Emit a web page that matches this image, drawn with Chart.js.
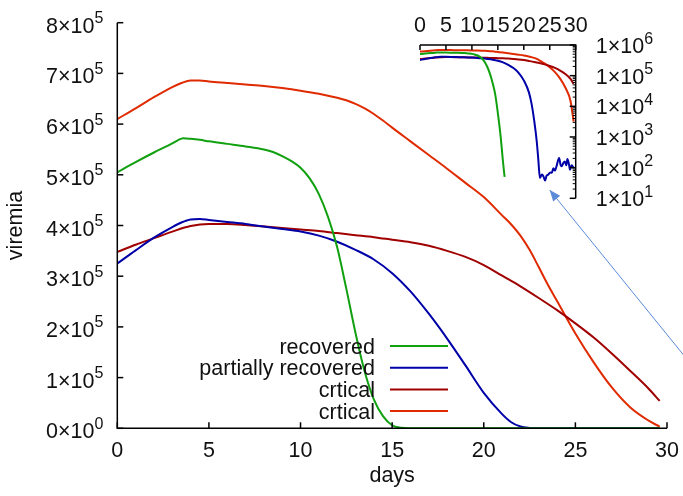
<!DOCTYPE html>
<html><head><meta charset="utf-8">
<script src="https://cdn.jsdelivr.net/npm/chart.js@4/dist/chart.umd.min.js"></script>
<style>
html,body{margin:0;padding:0;background:#fff;}
#wrap{position:relative;width:683px;height:496px;}
canvas{position:absolute;left:0;top:0;}
</style></head><body>
<div id="wrap"><canvas id="main" width="683" height="496"></canvas><canvas id="inset" width="683" height="496"></canvas></div>
<script>
// ---------- data ----------
const seriesLabels = ['recovered', 'partially recovered', 'crtical', 'crtical'];
const seriesColors = ['#10a010', '#0000a8', '#a00000', '#e02a00'];

const recoveredDays   = [0,1,2,3,3.3,3.6,4,4.5,5,6,7,8,8.5,9,9.5,10,10.5,11,11.5,12,12.5,13,13.5,14,14.5,15,15.5,16,16.3,16.6,18,20,22,24,26,28,29.6];
const recoveredValues = [505000,525000,544000,562000,568000,572000,571000,569000,566000,561000,556000,550000,545000,537000,527000,514000,493000,462000,417000,357000,275000,188000,112000,57000,24000,6000,1200,150,50,0,0,0,0,0,0,0,0];

const partialDays   = [0,1,2,3,3.5,4,4.5,5,6,7,8,9,10,11,12,13,14,15,16,17,18,19,20,21,21.5,22,22.5,22.8,23.1,23.5,23.8,24.1,24.4,24.7,25.1,25.4,25.7,26.0,26.3,26.8,27.1,27.3,27.6,27.9,28.2,28.4,28.7,28.9,29.2,29.4,29.6];
const partialValues = [325000,351000,376000,397000,406000,412000,413000,411000,407000,403000,398000,393000,388000,380000,368000,352000,333000,306000,270000,226000,177000,124000,70000,28000,12000,3500,700,180,46,60,51,38,55,59,70,68,95,80,110,205,120,110,140,158,120,190,130,85,120,110,95];

const critical1Days   = [0,1,2,3,4,5,6,7,8,9,10,11,12,13,14,15,16,17,18,19,20,21,22,23,24,25,26,27,28,29,29.6];
const critical1Values = [348000,362000,375000,388000,399000,403000,403000,401000,398000,395000,392000,389000,385000,381000,377000,372000,367000,360000,350000,338000,322000,301000,280000,257000,233000,207000,179000,147000,113000,78000,54000];

const critical2Days   = [0,1,2,3,3.5,4,4.5,5,6,7,8,9,10,11,12,12.5,13,13.5,14,14.5,15,16,17,18,19,20,21,21.5,22,22.5,23,23.5,24,25,26,27,28,29,29.6];
const critical2Values = [610000,631000,653000,673000,681000,686000,686000,684000,681000,678000,675000,671000,666000,660000,652000,647000,640000,631000,620000,607000,593000,566000,539000,512000,484000,456000,420000,402000,380000,352000,318000,283000,251000,187000,130000,80000,41000,15000,3200];

const mainXTicks = [0,5,10,15,20,25,30];
const mainYTicks = [0,100000,200000,300000,400000,500000,600000,700000,800000];
const mainYTickLabels = ['0×10^0','1×10^5','2×10^5','3×10^5','4×10^5','5×10^5','6×10^5','7×10^5','8×10^5'];
const insetXTicks = [0,5,10,15,20,25,30];
const insetYTicks = [10,100,1000,10000,100000,1000000];
const insetYTickLabels = ['1×10^1','1×10^2','1×10^3','1×10^4','1×10^5','1×10^6'];
const xTitle = 'days';
const yTitle = 'viremia';

// ---------- helpers ----------
const FONT = '"Liberation Sans", Arial, Helvetica, sans-serif';
const MAIN_SIZE = 21.5, SUP_SIZE = 16;
function sciWidth(ctx, label){
  const [m, e] = label.split('^');
  ctx.font = MAIN_SIZE + 'px ' + FONT; const w1 = ctx.measureText(m).width;
  ctx.font = SUP_SIZE + 'px ' + FONT; const w2 = ctx.measureText(e).width;
  return w1 + w2;
}
function drawSci(ctx, label, x, baseline){
  const [m, e] = label.split('^');
  ctx.textAlign = 'left'; ctx.textBaseline = 'alphabetic';
  ctx.font = MAIN_SIZE + 'px ' + FONT; ctx.fillText(m, x, baseline);
  const w1 = ctx.measureText(m).width;
  ctx.font = SUP_SIZE + 'px ' + FONT; ctx.fillText(e, x + w1, baseline - 9.5);
}
function makeSeries(days, vals, logMode){
  return days.map((d, i) => ({x: d, y: (logMode && vals[i] <= 0) ? null : vals[i]}));
}
const allDays = [recoveredDays, partialDays, critical1Days, critical2Days];
const allVals = [recoveredValues, partialValues, critical1Values, critical2Values];
function datasets(logMode){
  return allDays.map((d, i) => ({
    label: seriesLabels[i],
    data: makeSeries(d, allVals[i], logMode),
    borderColor: seriesColors[i],
    borderWidth: 2,
    pointRadius: 0,
    fill: false,
    spanGaps: false,
    cubicInterpolationMode: 'monotone'
  }));
}

// ---------- main chart decorations ----------
const mainDecor = {
  id: 'mainDecor',
  afterDraw(chart){
    const ctx = chart.ctx, xs = chart.scales.x, ys = chart.scales.y, a = chart.chartArea;
    ctx.save();
    ctx.strokeStyle = '#000'; ctx.fillStyle = '#111'; ctx.lineWidth = 1.5;
    ctx.beginPath();
    ctx.moveTo(a.left, a.top); ctx.lineTo(a.left, a.bottom); ctx.lineTo(a.right, a.bottom);
    ctx.stroke();
    // y ticks
    mainYTicks.forEach((v, i) => {
      const y = ys.getPixelForValue(v);
      ctx.beginPath(); ctx.moveTo(a.left, y); ctx.lineTo(a.left + 6, y); ctx.stroke();
      const w = sciWidth(ctx, mainYTickLabels[i]);
      drawSci(ctx, mainYTickLabels[i], a.left - 14 - w, y + 10);
    });
    // x ticks
    ctx.font = MAIN_SIZE + 'px ' + FONT; ctx.textAlign = 'center'; ctx.textBaseline = 'alphabetic';
    mainXTicks.forEach(v => {
      const x = xs.getPixelForValue(v);
      ctx.beginPath(); ctx.moveTo(x, a.bottom); ctx.lineTo(x, a.bottom - 6); ctx.stroke();
      ctx.fillText(String(v), x, a.bottom + 29);
    });
    // titles
    ctx.fillText(xTitle, (a.left + a.right) / 2, 482);
    ctx.save();
    ctx.translate(16, (a.top + a.bottom) / 2); ctx.rotate(-Math.PI / 2);
    ctx.textBaseline = 'middle'; ctx.fillText(yTitle, 0, 0);
    ctx.restore();
    // legend
    chart.data.datasets.forEach((ds, i) => {
      const rowY = 346 + i * 21.7;
      ctx.font = MAIN_SIZE + 'px ' + FONT; ctx.textAlign = 'right'; ctx.textBaseline = 'alphabetic';
      ctx.fillStyle = '#111';
      ctx.fillText(ds.label, 375, rowY + 7.5);
      ctx.strokeStyle = ds.borderColor; ctx.lineWidth = 2;
      ctx.beginPath(); ctx.moveTo(390, rowY); ctx.lineTo(448, rowY); ctx.stroke();
    });
    // arrow (annotation in data coordinates)
    const x0 = xs.getPixelForValue(31.5), y0 = ys.getPixelForValue(118000);
    const x1 = xs.getPixelForValue(23.6), y1 = ys.getPixelForValue(470000);
    ctx.strokeStyle = '#5a8ad8'; ctx.fillStyle = '#5a8ad8'; ctx.lineWidth = 1;
    ctx.beginPath(); ctx.moveTo(x0, y0); ctx.lineTo(x1, y1); ctx.stroke();
    const ang = Math.atan2(y1 - y0, x1 - x0), L = 11, W = 4.5;
    ctx.beginPath();
    ctx.moveTo(x1, y1);
    ctx.lineTo(x1 - L * Math.cos(ang) + W * Math.sin(ang), y1 - L * Math.sin(ang) - W * Math.cos(ang));
    ctx.lineTo(x1 - L * Math.cos(ang) - W * Math.sin(ang), y1 - L * Math.sin(ang) + W * Math.cos(ang));
    ctx.closePath(); ctx.fill();
    ctx.restore();
  }
};

// ---------- inset decorations ----------
const insetDecor = {
  id: 'insetDecor',
  afterDraw(chart){
    const ctx = chart.ctx, xs = chart.scales.x, ys = chart.scales.y, a = chart.chartArea;
    ctx.save();
    ctx.strokeStyle = '#000'; ctx.fillStyle = '#111'; ctx.lineWidth = 1.5;
    ctx.beginPath();
    ctx.moveTo(a.left, a.top); ctx.lineTo(a.right, a.top); ctx.lineTo(a.right, a.bottom);
    ctx.stroke();
    ctx.font = MAIN_SIZE + 'px ' + FONT; ctx.textAlign = 'center'; ctx.textBaseline = 'alphabetic';
    insetXTicks.forEach(v => {
      const x = xs.getPixelForValue(v);
      ctx.beginPath(); ctx.moveTo(x, a.top); ctx.lineTo(x, a.top + 5); ctx.stroke();
      ctx.fillText(String(v), x, a.top - 13);
    });
    ctx.lineWidth = 1;
    for (let k = 1; k < 6; k++) {
      for (let m = 2; m <= 9; m++) {
        const y = ys.getPixelForValue(m * Math.pow(10, k));
        ctx.beginPath(); ctx.moveTo(a.right, y); ctx.lineTo(a.right - 3, y); ctx.stroke();
      }
    }
    ctx.lineWidth = 1.5;
    insetYTicks.forEach((v, i) => {
      const y = ys.getPixelForValue(v);
      ctx.beginPath(); ctx.moveTo(a.right, y); ctx.lineTo(a.right - 6, y); ctx.stroke();
      drawSci(ctx, insetYTickLabels[i], a.right + 20, y + 8);
    });
    ctx.restore();
  }
};

const baseOpts = {
  responsive: false, animation: false, devicePixelRatio: 1,
  plugins: {legend: {display: false}, tooltip: {enabled: false}},
  events: []
};

new Chart(document.getElementById('main'), {
  type: 'line',
  data: {datasets: datasets(false)},
  options: Object.assign({}, baseOpts, {
    layout: {padding: {left: 117.3, top: 22.7, right: 16, bottom: 67.7}},
    scales: {
      x: {type: 'linear', min: 0, max: 30, display: false},
      y: {type: 'linear', min: 0, max: 800000, display: false}
    }
  }),
  plugins: [mainDecor]
});

new Chart(document.getElementById('inset'), {
  type: 'line',
  data: {datasets: datasets(true)},
  options: Object.assign({}, baseOpts, {
    layout: {padding: {left: 420, top: 45, right: 107.3, bottom: 297.7}},
    scales: {
      x: {type: 'linear', min: 0, max: 30, display: false},
      y: {type: 'logarithmic', min: 10, max: 1000000, display: false}
    }
  }),
  plugins: [insetDecor]
});
</script>
</body></html>
